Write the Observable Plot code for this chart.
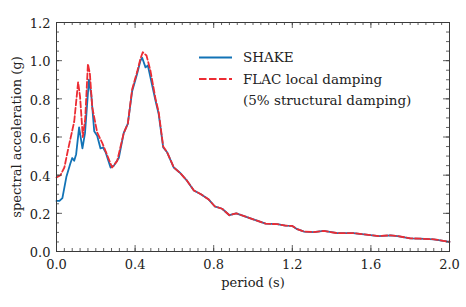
<!DOCTYPE html>
<html><head><meta charset="utf-8">
<script src="https://cdn.jsdelivr.net/npm/d3@7"></script>
<script src="https://cdn.jsdelivr.net/npm/@observablehq/plot@0.6"></script>
<style>
body{margin:0;background:#fff;}
#wrap{position:relative;width:466px;height:307px;}
#legend{position:absolute;left:0;top:0;pointer-events:none;}
</style></head><body><div id="wrap"></div>
<script>
const shakePeriod = [0, 0.015, 0.03, 0.05, 0.07, 0.08, 0.09, 0.1, 0.115, 0.132, 0.145, 0.165, 0.177, 0.192, 0.207, 0.224, 0.237, 0.25, 0.275, 0.292, 0.317, 0.342, 0.363, 0.385, 0.41, 0.427, 0.436, 0.453, 0.465, 0.504, 0.52, 0.543, 0.563, 0.597, 0.631, 0.665, 0.699, 0.735, 0.775, 0.805, 0.843, 0.88, 0.915, 0.962, 0.987, 1.064, 1.123, 1.165, 1.2, 1.225, 1.26, 1.31, 1.36, 1.43, 1.51, 1.565, 1.64, 1.7, 1.735, 1.8, 1.85, 1.92, 2.0];
const shakeSA = [0.265, 0.265, 0.28, 0.39, 0.46, 0.49, 0.475, 0.51, 0.65, 0.54, 0.62, 0.9, 0.82, 0.63, 0.607, 0.54, 0.545, 0.52, 0.44, 0.45, 0.49, 0.62, 0.67, 0.84, 0.93, 1.0, 1.015, 0.965, 0.975, 0.79, 0.72, 0.545, 0.52, 0.44, 0.41, 0.37, 0.32, 0.3, 0.272, 0.237, 0.224, 0.19, 0.2, 0.183, 0.174, 0.146, 0.143, 0.136, 0.134, 0.117, 0.104, 0.102, 0.108, 0.096, 0.096, 0.09, 0.081, 0.085, 0.081, 0.069, 0.067, 0.064, 0.051];

const flacPeriod = [0, 0.02, 0.04, 0.06, 0.075, 0.09, 0.11, 0.12, 0.134, 0.146, 0.16, 0.17, 0.182, 0.207, 0.232, 0.249, 0.283, 0.309, 0.342, 0.363, 0.385, 0.41, 0.427, 0.439, 0.458, 0.478, 0.504, 0.52, 0.543, 0.563, 0.597, 0.631, 0.665, 0.699, 0.735, 0.775, 0.805, 0.843, 0.88, 0.915, 0.962, 0.987, 1.064, 1.123, 1.165, 1.2, 1.225, 1.26, 1.31, 1.36, 1.43, 1.51, 1.565, 1.64, 1.7, 1.735, 1.8, 1.85, 1.92, 2.0];
const flacSA = [0.388, 0.40, 0.44, 0.54, 0.61, 0.68, 0.887, 0.81, 0.6, 0.694, 0.983, 0.93, 0.755, 0.624, 0.571, 0.528, 0.44, 0.475, 0.62, 0.67, 0.85, 0.94, 1.01, 1.044, 1.027, 0.948, 0.8, 0.73, 0.55, 0.52, 0.44, 0.41, 0.37, 0.32, 0.3, 0.272, 0.237, 0.224, 0.19, 0.2, 0.183, 0.174, 0.146, 0.143, 0.136, 0.134, 0.117, 0.104, 0.102, 0.108, 0.096, 0.096, 0.09, 0.081, 0.085, 0.081, 0.069, 0.067, 0.064, 0.051];

const xTicks = [0, 0.4, 0.8, 1.2, 1.6, 2.0];
const yTicks = [0, 0.2, 0.4, 0.6, 0.8, 1.0, 1.2];
const xLabel = "period (s)";
const yLabel = "spectral acceleration (g)";
const seriesNames = ["SHAKE", "FLAC local damping", "(5% structural damping)"];

const blue = "#1273b6";
const red = "#ec2c33";
const axisColor = "#3a3a3a";
const font = "DejaVu Serif";

const W = 466, H = 307, mL = 56, mR = 17, mT = 22, mB = 56;
const PW = W - mL - mR, PH = H - mT - mB;
const xMinor = d3.range(0, 2.0001, 0.04).map(d => +d.toFixed(2));
const yMinor = d3.range(0, 1.2001, 0.05).map(d => +d.toFixed(2));

const shake = shakePeriod.map((p, i) => ({p, v: shakeSA[i]}));
const flac = flacPeriod.map((p, i) => ({p, v: flacSA[i]}));

const tk = {stroke: axisColor, strokeWidth: 0.8};
const chart = Plot.plot({
  width: W, height: H,
  marginLeft: mL, marginRight: mR, marginTop: mT, marginBottom: mB,
  style: {fontFamily: font, fontSize: "13px", color: "#222", background: "white"},
  x: {domain: [0, 2], axis: null},
  y: {domain: [0, 1.2], axis: null},
  marks: [
    Plot.line(shake, {x: "p", y: "v", stroke: blue, strokeWidth: 1.8}),
    Plot.line(flac, {x: "p", y: "v", stroke: red, strokeWidth: 1.8, strokeDasharray: "6,2.5"}),
    // minor ticks (inward)
    Plot.tickX(xMinor, {x: d => d, insetTop: PH - 3, ...tk}),
    Plot.tickX(xMinor, {x: d => d, insetBottom: PH - 3, ...tk}),
    Plot.tickY(yMinor, {y: d => d, insetRight: PW - 3, ...tk}),
    Plot.tickY(yMinor, {y: d => d, insetLeft: PW - 3, ...tk}),
    // major ticks
    Plot.tickX(xTicks, {x: d => d, insetTop: PH - 6, ...tk}),
    Plot.tickX(xTicks, {x: d => d, insetBottom: PH - 6, ...tk}),
    Plot.tickY(yTicks, {y: d => d, insetRight: PW - 6, ...tk}),
    Plot.tickY(yTicks, {y: d => d, insetLeft: PW - 6, ...tk}),
    Plot.frame({stroke: axisColor, strokeWidth: 1}),
    Plot.axisX(xTicks, {tickSize: 0, tickPadding: 8, tickFormat: d => d.toFixed(1), label: null, fill: "#222"}),
    Plot.axisY(yTicks, {tickSize: 0, tickPadding: 6, tickFormat: d => d.toFixed(1), label: null, dy: 1.5, fill: "#222"}),
    Plot.text([xLabel], {frameAnchor: "bottom", textAnchor: "middle", dy: 35, fill: "#222"}),
    Plot.text([yLabel], {frameAnchor: "left", textAnchor: "middle", lineAnchor: "middle", rotate: -90, dx: -40, fill: "#222"})
  ]
});
const wrap = document.getElementById("wrap");
wrap.appendChild(chart);

// legend overlay
const ns = "http://www.w3.org/2000/svg";
const lg = document.createElementNS(ns, "svg");
lg.setAttribute("id", "legend");
lg.setAttribute("width", W); lg.setAttribute("height", H);
const items = [
  {name: seriesNames[0], color: blue, dash: null},
  {name: seriesNames[1], color: red, dash: "7.5,2.5"},
  {name: seriesNames[2], color: null}
];
items.forEach((it, i) => {
  const y = 57.5 + i * 21.5;
  if (it.color) {
    const l = document.createElementNS(ns, "line");
    l.setAttribute("x1", 199); l.setAttribute("x2", 232);
    l.setAttribute("y1", y); l.setAttribute("y2", y);
    l.setAttribute("stroke", it.color); l.setAttribute("stroke-width", 2);
    if (it.dash) l.setAttribute("stroke-dasharray", it.dash);
    lg.appendChild(l);
  }
  const t = document.createElementNS(ns, "text");
  t.setAttribute("x", 243); t.setAttribute("y", y + 4.5);
  t.setAttribute("font-family", font); t.setAttribute("font-size", 13.5);
  t.setAttribute("fill", "#222");
  t.textContent = it.name;
  lg.appendChild(t);
});
wrap.appendChild(lg);
</script></body></html>
